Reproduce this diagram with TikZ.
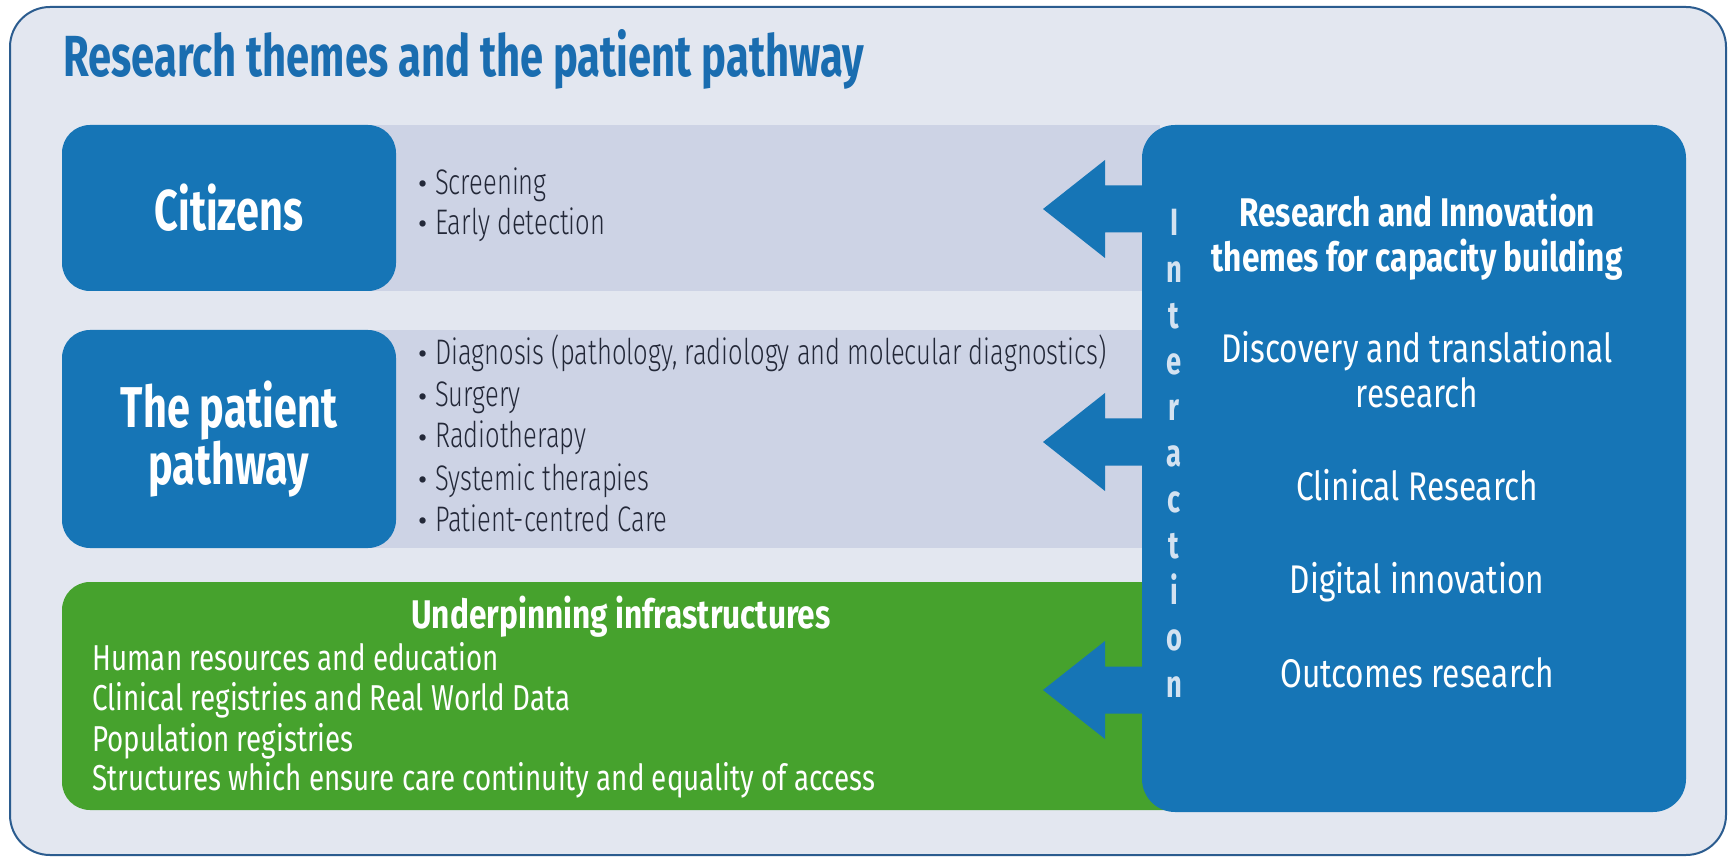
\documentclass[tikz,border=0pt]{standalone}
\usepackage{fontspec}
\setmainfont{Fira Sans}[FakeStretch=0.72]
\newfontfamily\lightfont{Fira Sans Light}[FakeStretch=0.72]
\newfontfamily\panfont{Fira Sans}[FakeStretch=0.79]
\newfontfamily\grnfont{Fira Sans}[FakeStretch=0.77]
\newfontfamily\dotfont{Fira Sans}
\definecolor{bgc}{HTML}{E3E7F0}
\definecolor{bandc}{HTML}{CDD3E5}
\definecolor{blu}{HTML}{1675B6}
\definecolor{ttl}{HTML}{1A6DB0}
\definecolor{framec}{HTML}{2B5C8F}
\definecolor{grn}{HTML}{46A22D}
\definecolor{txt}{HTML}{232838}
\definecolor{intc}{HTML}{D3E2F1}
\tikzset{
  bluebox/.style={fill=blu, rounded corners=28pt, text=white, align=center, inner sep=0pt,
    font=\bfseries\fontsize{57.5}{57}\selectfont},
  bul/.style={anchor=base west, text=txt, inner sep=0pt, font=\lightfont\fontsize{35.5}{35}\selectfont},
  pantext/.style={anchor=base, text=white, inner sep=0pt, font=\panfont\fontsize{40}{40}\selectfont},
  panhead/.style={pantext, font=\panfont\bfseries\fontsize{40}{40}\selectfont},
  grntext/.style={anchor=base west, text=white, inner sep=0pt, font=\grnfont\fontsize{36}{36}\selectfont},
  intl/.style={anchor=base, text=intc, inner sep=0pt, font=\bfseries\fontsize{38}{38}\selectfont},
}
\newcommand{\bdot}{\makebox[17pt][l]{\raisebox{1pt}{\dotfont\fontsize{28}{28}\selectfont\textbullet}}}
\begin{document}
\begin{tikzpicture}[x=1pt,y=-1pt]
\useasboundingbox (0,0) rectangle (1730,858);
\fill[white] (0,0) rectangle (1730,858);
% outer frame
\draw[framec, line width=2pt, fill=bgc, rounded corners=40pt] (10,7) rectangle (1726,855);
% title
\node[anchor=base west, inner sep=0pt, text=ttl, font=\bfseries\fontsize{58}{58}\selectfont] (title) at (63,77) {Research themes and the patient pathway};
% bands
\fill[bandc] (228,125) rectangle (1160,291);
\fill[bandc] (228,330) rectangle (1160,548);
% green box
\fill[grn, rounded corners=28pt] (62,582) rectangle (1220,810);
% blue boxes
\node[bluebox, minimum width=334pt, minimum height=166pt] (cit) at (229,208) {Citizens};
\node[bluebox, minimum width=334pt, minimum height=218pt] (pat) at (229,439) {The patient\\pathway};
% bullets
\node[bul] (b1) at (418,195) {\bdot Screening};
\node[bul] (b2) at (418,235) {\bdot Early detection};
\node[bul] (b3) at (418,365) {\bdot Diagnosis (pathology, radiology and molecular diagnostics)};
\node[bul] (b4) at (418,407) {\bdot Surgery};
\node[bul] (b5) at (418,448) {\bdot Radiotherapy};
\node[bul] (b6) at (418,490) {\bdot Systemic therapies};
\node[bul] (b7) at (418,531) {\bdot Patient-centred Care};
% green text
\node[anchor=base, text=white, inner sep=0pt, font=\panfont\bfseries\fontsize{40}{40}\selectfont] (g0) at (621,628) {Underpinning infrastructures};
\node[grntext] (g1) at (92,670) {Human resources and education};
\node[grntext] (g2) at (92,710) {Clinical registries and Real World Data};
\node[grntext] (g3) at (92,751) {Population registries};
\node[grntext] (g4) at (92,790) {Structures which ensure care continuity and equality of access};
% right panel
\node[fill=blu, rounded corners=33pt, minimum width=544pt, minimum height=687pt, inner sep=0pt] (panel) at (1414,468.5) {};
% arrows
\foreach \yc/\nm in {209/a1, 442/a2, 690/a3}{
  \fill[blu] (1150,\yc-23.5) -- (1105,\yc-23.5) -- (1105,\yc-49) -- (1043,\yc)
    -- (1105,\yc+49) -- (1105,\yc+23.5) -- (1150,\yc+23.5) -- cycle;
}
% Interaction letters
\foreach \l [count=\i from 0] in {I,n,t,e,r,a,c,t,i,o,n}{
  \node[intl] (int\i) at (1174,236+46.1*\i) {\l};
}
% panel texts
\node[panhead] (p1) at (1417,227) {Research and Innovation};
\node[panhead] (p2) at (1417,272) {themes for capacity building};
\node[pantext] (p3) at (1417,363) {Discovery and translational};
\node[pantext] (p4) at (1417,408) {research};
\node[pantext] (p5) at (1417,500) {Clinical Research};
\node[pantext] (p6) at (1417,593) {Digital innovation};
\node[pantext] (p7) at (1417,687) {Outcomes research};
\end{tikzpicture}
\end{document}
